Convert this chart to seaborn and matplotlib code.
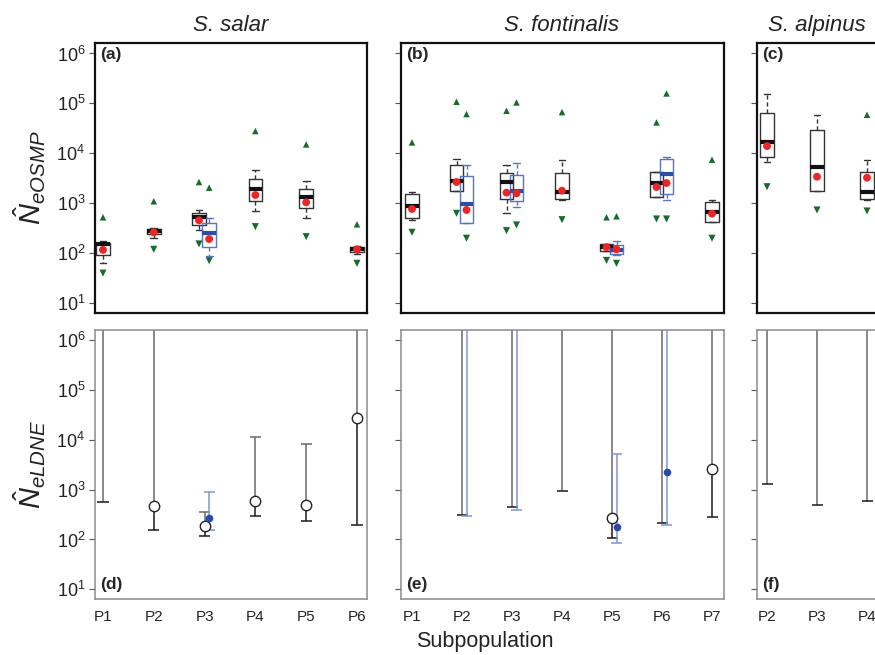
import numpy as np
import pandas as pd
import seaborn as sns
import matplotlib.pyplot as plt

# OSMP boxes: (lo whisker, q1, median, q3, hi whisker, mean, lower bound, upper bound)
salar_pops = ['P1', 'P2', 'P3', 'P4', 'P5', 'P6']
salar_black = [
    (63, 93, 150, 163, 173, 117, 40, 525),
    (206, 240, 284, 302, 326, 263, 120, 1100),
    (293, 363, 541, 650, 736, 457, 154, 2670),
    (703, 1114, 1905, 3070, 4570, 1468, 341, 28000),
    (509, 794, 1318, 1965, 2800, 1047, 215, 15100),
    (97, 105, 120, 132, 140, 120, 63, 380),
]
salar_blue = [None, None, (90, 136, 251, 398, 500, 193, 71, 2056), None, None, None]

fontinalis_pops = ['P1', 'P2', 'P3', 'P4', 'P5', 'P6', 'P7']
fontinalis_black = [
    (464, 500, 871, 1560, 1710, 771, 263, 16600),
    (1738, 1738, 2800, 5750, 7590, 2670, 631, 108000),
    (650, 1240, 2670, 4100, 5750, 1633, 284, 71300),
    (1150, 1202, 1660, 4100, 7470, 1792, 471, 67100),
    (111, 111, 132, 151, 151, 132, 72, 525),
    (1360, 1360, 2550, 4240, 4240, 2120, 486, 41700),
    (430, 430, 671, 1080, 1180, 621, 200, 7470),
]
fontinalis_blue = [
    None,
    (410, 410, 970, 3520, 5750, 736, 200, 61200),
    (832, 1114, 1766, 3630, 6300, 1585, 369, 104700),
    None,
    (91, 95, 117, 147, 173, 120, 63, 550),
    (1180, 1540, 3860, 7820, 8580, 2550, 486, 158500),
    None,
]

alpinus_pops = ['P2', 'P3', 'P4']
alpinus_black = [
    (6700, 8450, 16600, 65000, 156000, 14000, 2150, np.nan),
    (1790, 1790, 5400, 29700, 57500, 3410, 736, np.nan),
    (1150, 1202, 1660, 4170, 7470, 3260, 703, 59300),
]

# LDNE estimates: (estimate, lower CI, upper CI)
salar_ld_black = [
    (np.nan, 575, np.inf), (464, 154, np.inf), (185, 117, 352),
    (603, 297, 11500), (493, 240, 8450), (27100, 194, np.inf),
]
salar_ld_blue = [None, None, (271, 154, 885), None, None, None]

fontinalis_ld_black = [
    None, (np.nan, 311, np.inf), (np.nan, 450, np.inf), (np.nan, 955, np.inf),
    (275, 105, np.inf), (np.nan, 215, np.inf), (2590, 280, np.inf),
]
fontinalis_ld_blue = [
    None, (np.nan, 293, np.inf), (np.nan, 398, np.inf), None,
    (182, 86, 5250), (2290, 194, np.inf), None,
]

alpinus_ld_black = [(np.nan, 1300, np.inf), (np.nan, 500, np.inf), (np.nan, 593, np.inf)]

titles = ['S. salar', 'S. fontinalis', 'S. alpinus']

sns.set_style('ticks')
plt.rcParams['font.family'] = ['Liberation Sans', 'DejaVu Sans']
plt.rcParams['mathtext.fontset'] = 'custom'
plt.rcParams['mathtext.rm'] = 'Liberation Sans'
plt.rcParams['mathtext.it'] = 'Liberation Sans:italic'

GREEN = '#176b2c'
RED = '#ee2526'
BLUE_BOX = '#5a74c4'
BLUE_MED = '#2c4ea6'
BLUE_LINE = '#7f95d4'
BLUE_DOT = '#2b4aa8'

fig = plt.figure(figsize=(8.75, 6.55), dpi=100)
W, H = 875, 655


def px_axes(left, top, right, bottom):
    return fig.add_axes([left / W, 1 - bottom / H, (right - left) / W, (bottom - top) / H])


def draw_box(ax, x, st, edge, med):
    df = pd.DataFrame({'x': [x] * 5, 'y': list(st[:5])})
    sns.boxplot(data=df, x='x', y='y', native_scale=True, orient='x', width=0.27,
                whis=(0, 100), fill=False, color=edge, linewidth=1.0,
                medianprops={'color': med, 'linewidth': 3},
                whiskerprops={'linestyle': (0, (3, 2))}, ax=ax)
    sns.scatterplot(x=[x], y=[st[5]], color=RED, s=32, edgecolor='none', ax=ax, zorder=5)
    sns.scatterplot(x=[x], y=[st[6]], color=GREEN, marker='v', s=26, edgecolor='none', ax=ax, zorder=5)
    if np.isfinite(st[7]):
        sns.scatterplot(x=[x], y=[st[7]], color=GREEN, marker='^', s=22, edgecolor='none', ax=ax, zorder=5)


def draw_ci(ax, x, est, lo, hi, dark, light, marker):
    top = hi if np.isfinite(hi) else 1e9
    if np.isfinite(est):
        ax.vlines(x, lo, est, color=dark, lw=1.1)
        ax.vlines(x, est, top, color=light, lw=1.1)
    else:
        ax.vlines(x, lo, top, color=light, lw=1.1)
    ax.hlines(lo, x - 0.11, x + 0.11, color=dark, lw=1.1)
    if np.isfinite(hi):
        ax.hlines(hi, x - 0.11, x + 0.11, color=light, lw=1.1)
    if np.isfinite(est):
        if marker == 'open':
            ax.plot(x, est, 'o', ms=7.5, mfc='white', mec='#222222', mew=1, zorder=5)
        else:
            ax.plot(x, est, 'o', ms=4.5, color=BLUE_DOT, zorder=5)


panels = [
    (salar_pops, salar_black, salar_blue, salar_ld_black, salar_ld_blue, 95, 367, 50.8, -0.157),
    (fontinalis_pops, fontinalis_black, fontinalis_blue, fontinalis_ld_black, fontinalis_ld_blue, 400.7, 724, 50, -0.226),
    (alpinus_pops, alpinus_black, [None] * 3, alpinus_ld_black, [None] * 3, 757, 1081, 50, -0.2),
]
letters = [('(a)', '(d)'), ('(b)', '(e)'), ('(c)', '(f)')]
title_x = [231, 562, 817]

for i, (pops, blk, blu, ldb, ldu, left, right, step, x0) in enumerate(panels):
    xlim = (x0, x0 + (right - left) / step)
    ax_t = px_axes(left, 43, right, 312.7)
    ax_b = px_axes(left, 330, right, 598.7)
    for ax in (ax_t, ax_b):
        ax.set_yscale('log')

    for j in range(len(pops)):
        if blu[j] is None:
            draw_box(ax_t, j, blk[j], '#333333', '#111111')
        else:
            draw_box(ax_t, j - 0.11, blk[j], '#333333', '#111111')
            draw_box(ax_t, j + 0.09, blu[j], BLUE_BOX, BLUE_MED)
        if ldb[j] is not None:
            draw_ci(ax_b, j, *ldb[j], '#1a1a1a', '#6a6a6a', 'open')
        if ldu[j] is not None:
            draw_ci(ax_b, j + 0.09, *ldu[j], BLUE_LINE, BLUE_LINE, 'dot')

    for ax in (ax_t, ax_b):
        ax.set_ylim(10 ** 0.81, 10 ** 6.21)
        ax.set_xlim(*xlim)
        ax.set_yticks([10 ** k for k in range(1, 7)])
        ax.yaxis.set_minor_locator(plt.NullLocator())
        ax.set_xlabel('')
        ax.set_ylabel('')
        ax.tick_params(axis='y', length=4, width=0.8, color='#555555',
                       labelsize=13, labelcolor='#222222', pad=3)
        if i > 0:
            ax.set_yticklabels([])
        else:
            ax.set_yticklabels([f'$10^{k}$' for k in range(1, 7)])

    ax_t.set_xticks([])
    for s in ax_t.spines.values():
        s.set_linewidth(1.6)
        s.set_color('#111111')
    ax_b.set_xticks(range(len(pops)))
    ax_b.set_xticklabels(pops)
    ax_b.tick_params(axis='x', length=0, labelsize=11, labelcolor='#222222', pad=8)
    for s in ax_b.spines.values():
        s.set_linewidth(1.1)
        s.set_color('#8a8a8a')

    ax_t.text(5 / (right - left), 0.985, letters[i][0], transform=ax_t.transAxes,
              fontsize=12.5, fontweight='bold', va='top', ha='left')
    ax_b.text(5 / (right - left), 0.025, letters[i][1], transform=ax_b.transAxes,
              fontsize=12.5, fontweight='bold', va='bottom', ha='left')

    fig.text(title_x[i] / W, 1 - 31 / H, titles[i], fontsize=16, style='italic',
             ha='center', va='baseline', color='#222222')

fig.text(30 / W, 1 - 178 / H, r'$\hat{N}_{eOSMP}$', rotation=90, fontsize=21,
         ha='center', va='center', color='#222222')
fig.text(30 / W, 1 - 464 / H, r'$\hat{N}_{eLDNE}$', rotation=90, fontsize=21,
         ha='center', va='center', color='#222222')
fig.text(485 / W, 1 - 642 / H, 'Subpopulation', fontsize=15.5, ha='center',
         va='center', color='#222222')

fig.savefig('out.png', dpi=100)
